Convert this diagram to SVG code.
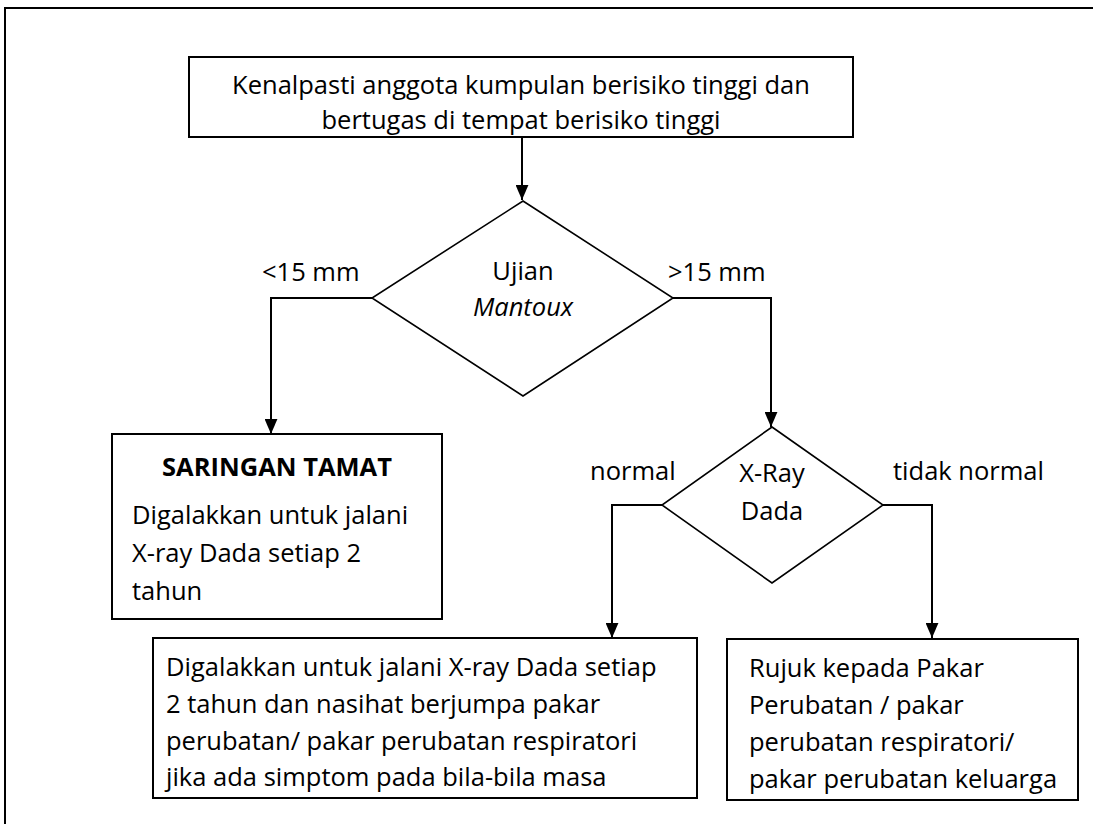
<svg xmlns="http://www.w3.org/2000/svg" width="1093" height="824" viewBox="0 0 1093 824">
<style>
.box{fill:#fff;stroke:#000;stroke-width:2}
.dia{fill:#fff;stroke:#000;stroke-width:1.6}
.con{fill:none;stroke:#000;stroke-width:2}
text{font-family:"Open Sans","Liberation Sans",sans-serif;font-size:25.5px;fill:#000}
.c{text-anchor:middle}
.b{font-weight:bold}
.i{font-style:italic}
</style>
<defs>
<marker id="ah" viewBox="0 0 14 12" refX="14" refY="6" markerWidth="15" markerHeight="13" markerUnits="userSpaceOnUse" orient="auto">
<path d="M0,0 L14,6 L0,12 z" fill="#000"/>
</marker>
</defs>
<rect width="1093" height="824" fill="#fff"/>
<path d="M5,824 V8 H1093" fill="none" stroke="#000" stroke-width="2"/>
<g id="connectors">
<path class="con" d="M522,137 V200" marker-end="url(#ah)"/>
<path class="con" d="M372,298 H271 V434" marker-end="url(#ah)"/>
<path class="con" d="M673,298 H771 V427" marker-end="url(#ah)"/>
<path class="con" d="M662,505 H612 V638" marker-end="url(#ah)"/>
<path class="con" d="M883,505 H932 V638" marker-end="url(#ah)"/>
</g>
<g id="start">
<rect class="box" x="189" y="57" width="664" height="80"/>
<text class="c" x="521" y="94">Kenalpasti anggota kumpulan berisiko tinggi dan</text>
<text class="c" x="521" y="129">bertugas di tempat berisiko tinggi</text>
</g>
<g id="mantoux">
<polygon class="dia" points="523,201 673,298 523,396 372,298"/>
<text class="c" x="523" y="280">Ujian</text>
<text class="c i" x="523" y="316">Mantoux</text>
<text x="262" y="281">&lt;15 mm</text>
<text x="668" y="281">&gt;15 mm</text>
</g>
<g id="saringan">
<rect class="box" x="112" y="434" width="330" height="185"/>
<text class="c b" x="277" y="476">SARINGAN TAMAT</text>
<text x="132" y="524">Digalakkan untuk jalani</text>
<text x="132" y="562">X-ray Dada setiap 2</text>
<text x="132" y="600">tahun</text>
</g>
<g id="xray">
<polygon class="dia" points="772,427 883,505 772,583 662,505"/>
<text class="c" x="772" y="482">X-Ray</text>
<text class="c" x="772" y="520">Dada</text>
<text x="590" y="480">normal</text>
<text x="893" y="480">tidak normal</text>
</g>
<g id="normal-box">
<rect class="box" x="153" y="638" width="544" height="160"/>
<text x="166" y="676">Digalakkan untuk jalani X-ray Dada setiap</text>
<text x="166" y="713">2 tahun dan nasihat berjumpa pakar</text>
<text x="166" y="750">perubatan/ pakar perubatan respiratori</text>
<text x="166" y="786">jika ada simptom pada bila-bila masa</text>
</g>
<g id="abnormal-box">
<rect class="box" x="727" y="639" width="351" height="161"/>
<text x="749" y="677">Rujuk kepada Pakar</text>
<text x="749" y="714">Perubatan / pakar</text>
<text x="749" y="751">perubatan respiratori/</text>
<text x="749" y="788">pakar perubatan keluarga</text>
</g>
</svg>
